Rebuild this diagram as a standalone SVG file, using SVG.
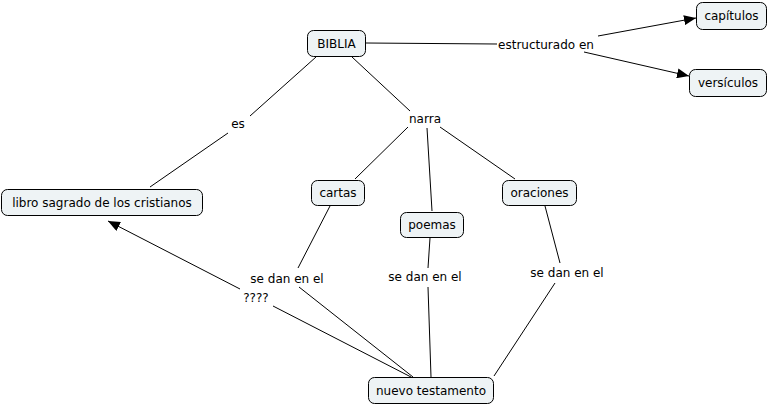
<svg xmlns="http://www.w3.org/2000/svg" width="768" height="405" viewBox="0 0 768 405">
<style>
.n rect{fill:#eef3f5;stroke:#000;stroke-width:1}
text{font-family:"DejaVu Sans",Verdana,sans-serif;font-size:12px;fill:#000;text-anchor:middle}
.c line{stroke:#000;stroke-width:1}
</style>
<defs>
<marker id="a" viewBox="0 0 12 10" refX="12" refY="5" markerWidth="12" markerHeight="10" markerUnits="userSpaceOnUse" orient="auto"><path d="M0,0L12,5L0,10z" fill="#000"/></marker>
</defs>
<rect width="768" height="405" fill="#fff"/>
<g class="c">
<line x1="366" y1="43" x2="497" y2="44"/>
<line x1="598" y1="36" x2="696" y2="18" marker-end="url(#a)"/>
<line x1="584" y1="52" x2="689" y2="76" marker-end="url(#a)"/>
<line x1="316" y1="57" x2="250" y2="116"/>
<line x1="228" y1="133" x2="150" y2="187"/>
<line x1="352" y1="57" x2="410" y2="111"/>
<line x1="408" y1="127" x2="355" y2="179"/>
<line x1="427" y1="128" x2="432" y2="211"/>
<line x1="440" y1="127" x2="515" y2="179"/>
<line x1="330" y1="206" x2="298" y2="268"/>
<line x1="299" y1="287" x2="413" y2="377"/>
<line x1="430" y1="238" x2="428" y2="268"/>
<line x1="428" y1="287" x2="431" y2="377"/>
<line x1="545" y1="206" x2="560" y2="263"/>
<line x1="555" y1="283" x2="494" y2="376"/>
<line x1="411" y1="377" x2="273" y2="306"/>
<line x1="240" y1="289" x2="108" y2="221" marker-end="url(#a)"/>
</g>
<g class="l">
<text x="546" y="49">estructurado en</text>
<text x="238" y="128">es</text>
<text x="425" y="123">narra</text>
<text x="287" y="283">se dan en el</text>
<text x="425" y="281">se dan en el</text>
<text x="567" y="277">se dan en el</text>
<text x="256" y="302">????</text>
</g>
<g id="biblia" class="n"><rect x="307.5" y="30.5" width="58" height="26" rx="6"/><text x="336.5" y="48">BIBLIA</text></g>
<g id="capitulos" class="n"><rect x="696.5" y="2.5" width="70" height="27" rx="6"/><text x="731.5" y="20">capítulos</text></g>
<g id="versiculos" class="n"><rect x="689.5" y="69.5" width="77" height="27" rx="6"/><text x="728" y="87">versículos</text></g>
<g id="libro" class="n"><rect x="1.5" y="189.5" width="201" height="26" rx="6"/><text x="102" y="207">libro sagrado de los cristianos</text></g>
<g id="cartas" class="n"><rect x="311.5" y="180.5" width="53" height="25" rx="6"/><text x="338" y="197">cartas</text></g>
<g id="poemas" class="n"><rect x="400.5" y="212.5" width="63" height="25" rx="6"/><text x="432" y="229">poemas</text></g>
<g id="oraciones" class="n"><rect x="502.5" y="180.5" width="74" height="25" rx="6"/><text x="539.5" y="197">oraciones</text></g>
<g id="nuevo" class="n"><rect x="368.5" y="377.5" width="125" height="26" rx="6"/><text x="431" y="395">nuevo testamento</text></g>
</svg>
